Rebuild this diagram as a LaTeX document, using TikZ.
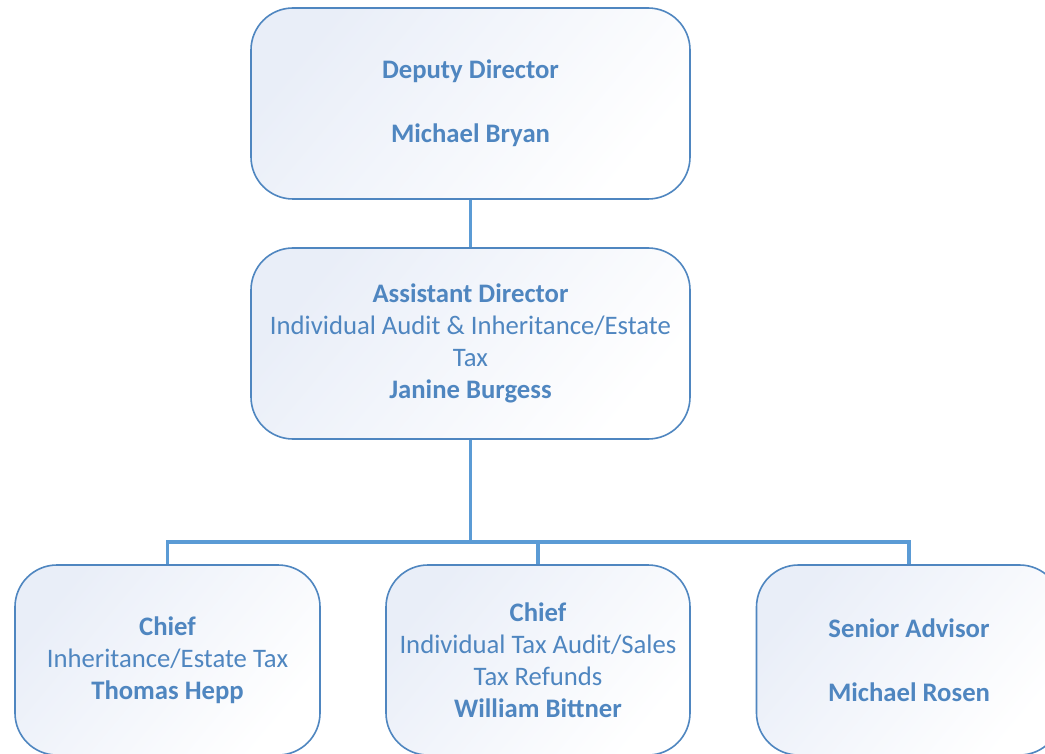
\documentclass[tikz,border=0pt]{standalone}
\usepackage{fontspec}
\setmainfont{Carlito}
\definecolor{txtblue}{HTML}{4F86C0}
\definecolor{edgeblue}{HTML}{4F86C0}
\definecolor{connblue}{HTML}{5B9BD5}
\definecolor{fillblue}{HTML}{E9EEF8}
\tikzset{
  orgbox/.style={draw=edgeblue, line width=1.6pt, rounded corners=42pt,
    top color=fillblue, bottom color=white, shading angle=50,
    text=txtblue, align=center, inner sep=0pt,
    font=\fontsize{26.7}{32}\selectfont},
  conn/.style={draw=connblue, line width=3.2pt}
}
\begin{document}
\begin{tikzpicture}[x=1pt,y=-1pt]
\useasboundingbox (0,0) rectangle (1045,754);
\clip (0,0) rectangle (1045,754);
\fill[white] (0,0) rectangle (1045,754);
\node[orgbox, minimum width=439pt, minimum height=191pt] (dd) at (470.5,103.5)
  {\textbf{Deputy Director}\\[32pt]\textbf{Michael Bryan}};
\node[orgbox, minimum width=439pt, minimum height=191pt] (ad) at (470.5,343.5)
  {\textbf{Assistant Director}\\Individual Audit \& Inheritance/Estate\\Tax\\\textbf{Janine Burgess}};
\node[orgbox, minimum width=305pt, minimum height=190pt] (c1) at (167.5,660)
  {\textbf{Chief}\\Inheritance/Estate Tax\\\textbf{Thomas Hepp}};
\node[orgbox, minimum width=304pt, minimum height=190pt] (c2) at (538,660)
  {\textbf{Chief}\\Individual Tax Audit/Sales\\Tax Refunds\\\textbf{William Bittner}};
\node[orgbox, minimum width=305pt, minimum height=190pt] (c3) at (909,660)
  {\textbf{Senior Advisor}\\[32pt]\textbf{Michael Rosen}};
\coordinate (bus) at (470.5,542);
\draw[conn] (dd.south) -- (ad.north);
\draw[conn] (ad.south) -- (bus);
\draw[conn] (bus) -| (c1.north);
\draw[conn] (bus) -| (c2.north);
\draw[conn] (bus) -| (c3.north);
\end{tikzpicture}
\end{document}
